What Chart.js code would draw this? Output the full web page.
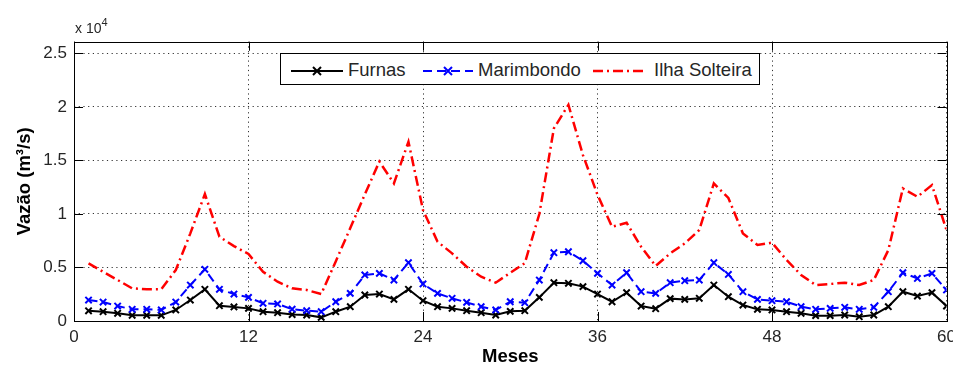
<!DOCTYPE html>
<html lang="pt">
<head>
    <meta charset="UTF-8">
    <title>Vazão mensal - Furnas, Marimbondo, Ilha Solteira</title>
    <script src="https://cdn.jsdelivr.net/npm/chart.js"></script>
    <style>
        body { margin: 0; background: #fff; }
        .wrap { position: relative; width: 953px; height: 368px; overflow: hidden; font-family: "Liberation Sans", Arial, sans-serif; }
        .expo { position: absolute; left: 75px; top: 17px; font-size: 14px; color: #262626; }
        .expo sup { font-size: 11px; position: relative; top: -1px; }
        .legend { position: absolute; left: 280px; top: 53px; width: 478px; height: 30px; border: 1px solid #000; background: #fff; }
        .legend span { position: absolute; top: 6px; font-size: 18.5px; line-height: 20px; color: #262626; white-space: nowrap; }
        .legend svg { position: absolute; left: 0; top: 0; }
    </style>
</head>
<body>
<div class="wrap">
    <canvas id="vazaoChart" width="953" height="368"></canvas>
    <div class="expo">x 10<sup>4</sup></div>
    <div class="legend">
        <svg width="478" height="30">
            <line x1="10" y1="17" x2="62" y2="17" stroke="#000" stroke-width="2"/>
            <path d="M32 13 L40 21 M40 13 L32 21" stroke="#000" stroke-width="2"/>
            <line x1="142" y1="17" x2="192" y2="17" stroke="#00f" stroke-width="2" stroke-dasharray="9,5"/>
            <path d="M163 13 L171 21 M171 13 L163 21" stroke="#00f" stroke-width="2"/>
            <line x1="312" y1="17" x2="366" y2="17" stroke="#f00" stroke-width="2.5" stroke-dasharray="10,4,2,4"/>
        </svg>
        <span style="left:67px">Furnas</span>
        <span style="left:197px">Marimbondo</span>
        <span style="left:373px">Ilha Solteira</span>
    </div>
</div>

<script>
// monthly flows (m3/s), months 1..60
const months = [1, 2, 3, 4, 5, 6, 7, 8, 9, 10, 11, 12, 13, 14, 15, 16, 17, 18, 19, 20,
    21, 22, 23, 24, 25, 26, 27, 28, 29, 30, 31, 32, 33, 34, 35, 36, 37, 38, 39, 40,
    41, 42, 43, 44, 45, 46, 47, 48, 49, 50, 51, 52, 53, 54, 55, 56, 57, 58, 59, 60];

const furnas = [950, 870, 715, 530, 530, 530, 1030, 1960, 2960, 1430, 1310, 1180, 870, 780, 600,
    560, 340, 870, 1340, 2430, 2520, 2020, 2960, 1900, 1340, 1180, 965, 780, 560, 900,
    965, 2210, 3580, 3520, 3210, 2520, 1800, 2650, 1400, 1150, 2090, 2020, 2120, 3360, 2270,
    1490, 1090, 1030, 870, 715, 500, 500, 560, 400, 560, 1340, 2740, 2330, 2650, 1400];

const marimbondo = [1960, 1770, 1400, 1090, 1090, 1030, 1770, 3360, 4830, 2960, 2520, 2210, 1650, 1590, 1100,
    965, 870, 1800, 2580, 4300, 4450, 3830, 5450, 3460, 2580, 2120, 1740, 1340, 1030, 1800,
    1710, 3830, 6380, 6470, 5630, 4450, 3360, 4510, 2740, 2580, 3580, 3770, 3830, 5450, 4350,
    2740, 2020, 1900, 1800, 1340, 1090, 1180, 1280, 1090, 1280, 2740, 4510, 3980, 4450, 2900];

const ilhaSolteira = [5380, 4600, 3830, 3050, 2960, 2960, 4760, 8190, 11860, 7880, 7000, 6260, 4600, 3670, 3050,
    2900, 2520, 5570, 8680, 11830, 14900, 12860, 16750, 10370, 7410, 6320, 5070, 4140, 3580, 4500,
    5400, 10000, 18000, 20200, 15500, 11800, 8800, 9180, 6940, 5140, 6320, 7250, 8500, 12860, 11500,
    8190, 7100, 7320, 5700, 4300, 3360, 3460, 3580, 3360, 3830, 6630, 12390, 11610, 12700, 8500];

const xTicks = [0, 12, 24, 36, 48, 60];
const yTicks = [0, 5000, 10000, 15000, 20000, 25000];

function toPoints(values) {
    return months.map((m, i) => ({ x: m, y: values[i] }));
}

// MATLAB style box with inward tick marks on all four sides
const boxPlugin = {
    id: 'matlabBox',
    afterDatasetsDraw(chart) {
        const { ctx, chartArea: a, scales } = chart;
        const tl = 9;
        ctx.save();
        ctx.strokeStyle = '#000';
        ctx.lineWidth = 1;
        ctx.setLineDash([]);
        ctx.beginPath();
        xTicks.forEach(v => {
            const px = Math.round(scales.x.getPixelForValue(v)) + 0.5;
            ctx.moveTo(px, a.bottom); ctx.lineTo(px, a.bottom - tl);
            ctx.moveTo(px, a.top); ctx.lineTo(px, a.top + tl);
        });
        yTicks.forEach(v => {
            const py = Math.round(scales.y.getPixelForValue(v)) + 0.5;
            ctx.moveTo(a.left, py); ctx.lineTo(a.left + tl, py);
            ctx.moveTo(a.right, py); ctx.lineTo(a.right - tl, py);
        });
        ctx.stroke();
        ctx.strokeRect(Math.round(a.left) + 0.5, Math.round(a.top) + 0.5,
            Math.round(a.right - a.left), Math.round(a.bottom - a.top));
        ctx.restore();
    }
};

const tickFont = { family: '"Liberation Sans", Arial, sans-serif', size: 17 };
const titleFont = { family: '"Liberation Sans", Arial, sans-serif', size: 18.5, weight: 'bold' };

new Chart(document.getElementById('vazaoChart'), {
    type: 'line',
    data: {
        datasets: [{
            label: 'Furnas',
            data: toPoints(furnas),
            borderColor: '#000000',
            borderWidth: 2,
            pointStyle: 'crossRot',
            pointRadius: 4.5,
            pointBorderWidth: 2,
            pointBorderColor: '#000000',
            order: 3
        }, {
            label: 'Marimbondo',
            data: toPoints(marimbondo),
            borderColor: '#0000ff',
            borderWidth: 2,
            borderDash: [9, 5],
            pointStyle: 'crossRot',
            pointRadius: 4.5,
            pointBorderWidth: 2,
            pointBorderColor: '#0000ff',
            order: 2
        }, {
            label: 'Ilha Solteira',
            data: toPoints(ilhaSolteira),
            borderColor: '#ff0000',
            borderWidth: 2.5,
            borderDash: [10, 4, 2, 4],
            pointRadius: 0,
            order: 1
        }]
    },
    options: {
        responsive: false,
        animation: false,
        layout: { padding: { left: 0, right: 4, top: 41.7, bottom: 0 } },
        plugins: { legend: { display: false }, tooltip: { enabled: false } },
        elements: { line: { tension: 0, fill: false } },
        scales: {
            x: {
                type: 'linear',
                min: 0,
                max: 60,
                afterBuildTicks: s => { s.ticks = xTicks.map(v => ({ value: v })); },
                afterFit: s => { s.height = 47; s.paddingLeft = 0; s.paddingRight = 0; },
                grid: { color: 'rgba(0,0,0,0.8)', lineWidth: 1, drawTicks: false },
                border: { display: false, dash: [1.2, 3.5] },
                ticks: { color: '#262626', font: tickFont, padding: 6, maxRotation: 0 },
                title: { display: true, text: 'Meses', color: '#000', font: titleFont, padding: { top: 0, bottom: 0 } }
            },
            y: {
                min: 0,
                max: 26100,
                afterBuildTicks: s => { s.ticks = yTicks.map(v => ({ value: v })); },
                afterFit: s => { s.width = 74; s.paddingTop = 0; s.paddingBottom = 0; },
                grid: { color: 'rgba(0,0,0,0.8)', lineWidth: 1, drawTicks: false },
                border: { display: false, dash: [1.2, 3.5] },
                ticks: { color: '#262626', font: tickFont, padding: 7, callback: v => String(v / 10000) },
                title: { display: true, text: 'Vazão (m³/s)', color: '#000', font: titleFont, padding: { top: 14, bottom: 0 } }
            }
        }
    },
    plugins: [boxPlugin]
});
</script>
</body>
</html>
